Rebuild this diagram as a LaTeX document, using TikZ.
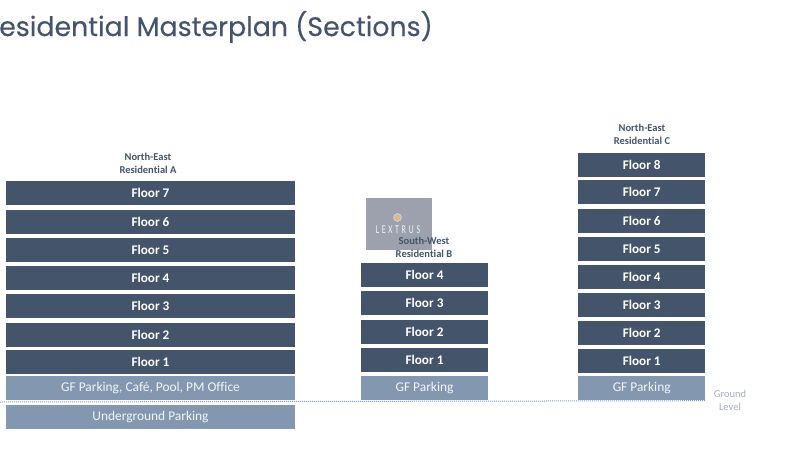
\documentclass[tikz,border=0pt]{standalone}
\usepackage{fontspec}
\setmainfont[Ligatures=NoCommon]{Carlito}
\newfontfamily\titlefont[FakeBold=0.25]{Poppins}
\usepackage{xcolor}
\usetikzlibrary{positioning,calc}

\definecolor{floorblue}{HTML}{44546A}
\definecolor{parkblue}{HTML}{8497B0}
\definecolor{titleblue}{HTML}{44546F}
\definecolor{levelgrey}{HTML}{A3ADC2}
\definecolor{linedots}{HTML}{7F9CCB}
\definecolor{logogrey}{HTML}{9DA1AE}
\definecolor{logodot}{HTML}{D9B8A0}

\tikzset{
	wide/.style={minimum width=289pt},
	narrow/.style={minimum width=127pt},
	floor/.style={fill=floorblue,text=white,font=\fontsize{13.2}{13}\selectfont\bfseries,minimum height=24pt,inner sep=0pt},
	park/.style={fill=parkblue,text=white!90!parkblue,font=\fontsize{13.4}{13}\selectfont,minimum height=24pt,inner sep=0pt},
	caption/.style={text=floorblue,font=\fontsize{10.5}{13}\selectfont\bfseries,align=center,inner sep=0pt},
	level/.style={text=levelgrey,font=\fontsize{10.5}{13}\selectfont,align=center,inner sep=0pt}
}

\begin{document}
\begin{tikzpicture}[x=1pt,y=1pt]

	\useasboundingbox (0,0) rectangle (796,-448);

	\fill [white] (0,0) rectangle (796,-448);

	\node (title) [anchor=east,text=titleblue,font=\titlefont\fontsize{26.8}{27}\selectfont,inner sep=0pt] at (433,-27) {Residential Masterplan (Sections)};


	\begin{scope}

	\node (cap_A) [caption] at (148,-163.5) {North-East\\Residential A};

	\node (F7_A) [floor,wide] at (150.5,-192.5) {Floor 7};

	\node (F6_A) [floor,wide] at (150.5,-221.5) {Floor 6};

	\node (F5_A) [floor,wide] at (150.5,-249.5) {Floor 5};

	\node (F4_A) [floor,wide] at (150.5,-277.5) {Floor 4};

	\node (F3_A) [floor,wide] at (150.5,-305.5) {Floor 3};

	\node (F2_A) [floor,wide] at (150.5,-334.5) {Floor 2};

	\node (F1_A) [floor,wide] at (150.5,-362) {Floor 1};

	\node (GF_A) [park,wide] at (150.5,-388) {\raisebox{-3pt}{GF Parking, Café, Pool, PM Office}};

	\node (UG_A) [park,wide] at (150.5,-416.5) {\raisebox{-3pt}{Underground Parking}};

	\end{scope}


	\begin{scope}

	\node (logo) [fill=logogrey,minimum width=66pt,minimum height=52.5pt,inner sep=0pt] at (398.5,-223.8) {};

	\node (logo_dot) [circle,fill=logodot,draw=white!70!logogrey,minimum size=8pt,inner sep=0pt] at (397.5,-217.5) {};

	\node (logo_text) [text=white!85!logogrey,font=\fontsize{8}{9}\selectfont,inner sep=0pt,yscale=1.5] at (398,-229.5) {L\,\,E\,\,X\,\,T\,\,R\,\,U\,\,S};

	\node (cap_B) [caption] at (424,-247) {South-West\\Residential B};

	\node (F4_B) [floor,narrow] at (424.5,-275) {Floor 4};

	\node (F3_B) [floor,narrow] at (424.5,-303) {Floor 3};

	\node (F2_B) [floor,narrow] at (424.5,-332) {Floor 2};

	\node (F1_B) [floor,narrow] at (424.5,-360) {Floor 1};

	\node (GF_B) [park,narrow] at (424.5,-387.5) {\raisebox{-3pt}{GF Parking}};

	\end{scope}


	\begin{scope}

	\node (cap_C) [caption] at (642,-134.5) {North-East\\Residential C};

	\node (F8_C) [floor,narrow] at (641.7,-165) {Floor 8};

	\node (F7_C) [floor,narrow] at (641.7,-191.5) {Floor 7};

	\node (F6_C) [floor,narrow] at (641.7,-221) {Floor 6};

	\node (F5_C) [floor,narrow] at (641.7,-248.5) {Floor 5};

	\node (F4_C) [floor,narrow] at (641.7,-276.5) {Floor 4};

	\node (F3_C) [floor,narrow] at (641.7,-304.5) {Floor 3};

	\node (F2_C) [floor,narrow] at (641.7,-332.5) {Floor 2};

	\node (F1_C) [floor,narrow] at (641.7,-360.5) {Floor 1};

	\node (GF_C) [park,narrow] at (641.7,-387.5) {\raisebox{-3pt}{GF Parking}};

	\end{scope}


	\coordinate (ground_left) at (0,-402);

	\coordinate (ground_right) at (705,-400.7);

	\draw [linedots,line width=1pt,densely dotted] (ground_left) to (ground_right);

	\node (ground) [level] at (730,-400.5) {Ground\\Level};

\end{tikzpicture}
\end{document}
